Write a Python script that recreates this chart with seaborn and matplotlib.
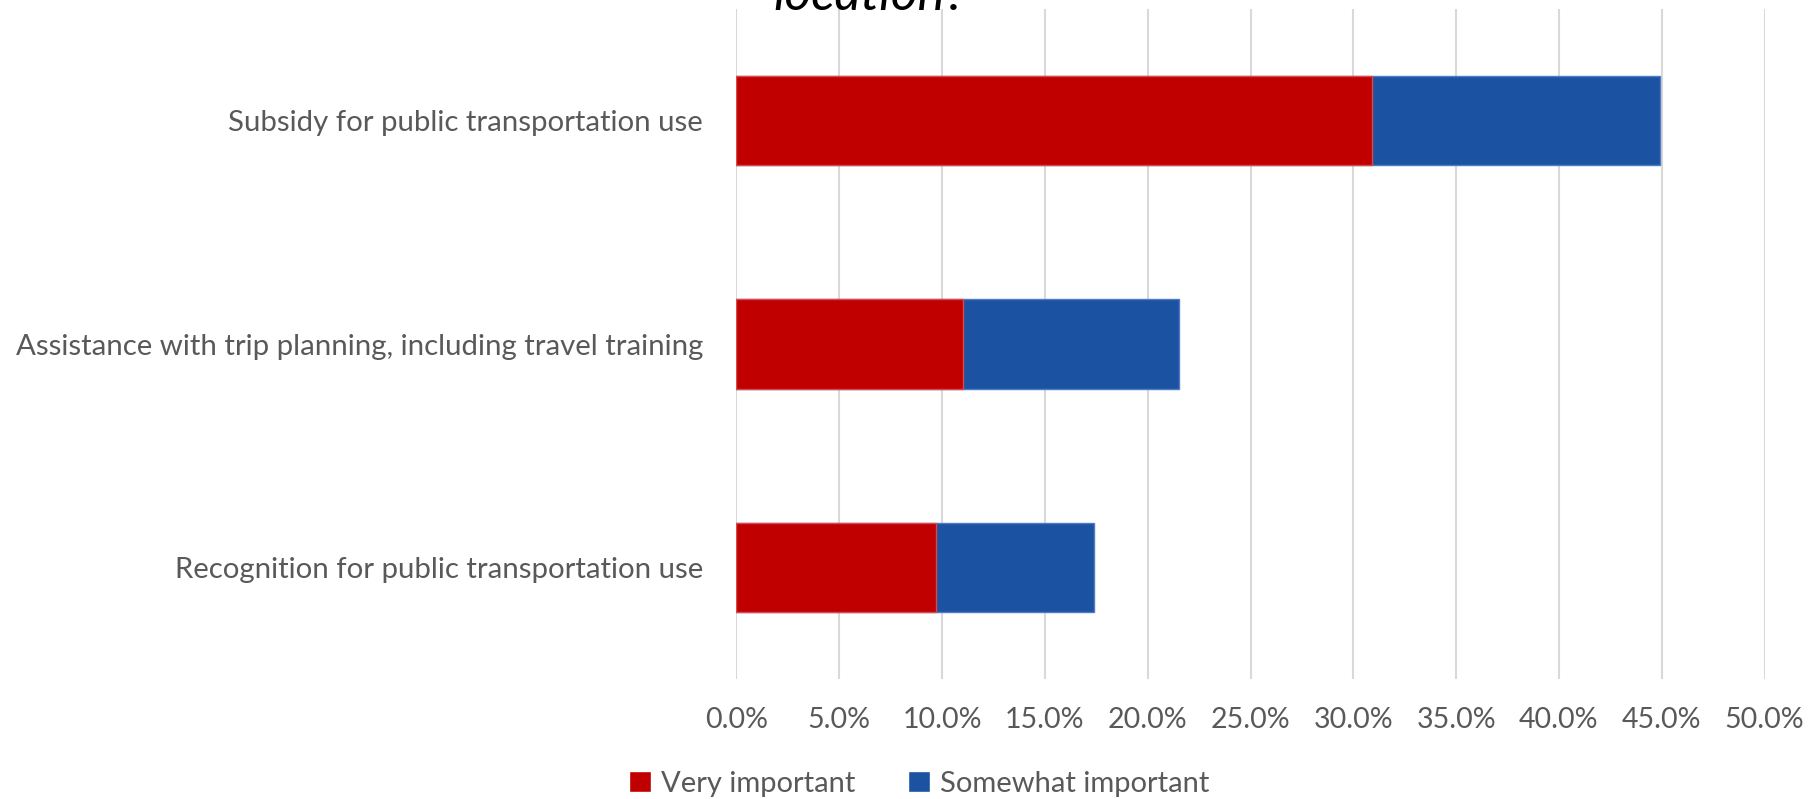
import pandas as pd
import seaborn as sns
import matplotlib.pyplot as plt
from matplotlib.patches import Patch

categories = ["Subsidy for public transportation use",
              "Assistance with trip planning, including travel training",
              "Recognition for public transportation use"]
very_important = [30.9, 11.0, 9.7]
somewhat_important = [14.0, 10.5, 7.7]
xticks = [0, 5, 10, 15, 20, 25, 30, 35, 40, 45, 50]

red = "#C00000"
blue = "#1B52A2"
grey_txt = "#595959"

df = pd.DataFrame({"Item": categories,
                   "Very": very_important,
                   "Somewhat": somewhat_important})
df["Total"] = df["Very"] + df["Somewhat"]

sns.set_theme(style="white")
plt.rcParams["font.family"] = ["Lato", "DejaVu Sans"]

fig = plt.figure(figsize=(18.15, 7.99), dpi=100)
ax = fig.add_axes([736.5/1815, 1-679/799, 1028/1815, (679-9.2)/799])

# stacked bars: total in blue, red drawn over it
sns.barplot(data=df, y="Item", x="Total", color=blue, width=0.4, ax=ax,
            edgecolor="#4F7CC4", linewidth=1, saturation=1, zorder=3)
sns.barplot(data=df, y="Item", x="Very", color=red, width=0.4, ax=ax,
            edgecolor="#D84A4A", linewidth=1, saturation=1, zorder=4)

ax.set_xlim(0, 50)
ax.set_ylim(2.5, -0.5)
ax.set_xticks(xticks)
ax.set_xticklabels([f"{t:.1f}%" for t in xticks])
ax.grid(axis="x", color="#D9D9D9", linewidth=1.5, zorder=0)
ax.set_axisbelow(True)
for s in ax.spines.values():
    s.set_visible(False)
ax.tick_params(axis="x", length=0, pad=20, labelsize=20.5, labelcolor=grey_txt)
ax.tick_params(axis="y", length=0, pad=24, labelsize=21.2, labelcolor=grey_txt)
ax.set_xlabel("")
ax.set_ylabel("")

handles = [Patch(facecolor=red, label="Very important"),
           Patch(facecolor=blue, label="Somewhat important")]
fig.legend(handles=handles, loc="center", bbox_to_anchor=(919/1815, 1-783.6/799),
           ncol=2, frameon=False, fontsize=21, labelcolor=grey_txt,
           handlelength=0.75, handleheight=0.75, handletextpad=0.35, columnspacing=1.8)

# last line of the title, mostly cut off at the top edge
fig.text(869.5/1815, 1-10/799, "location?", ha="center", va="baseline",
         fontsize=37, fontstyle="italic", color="black")

fig.savefig("out.png", dpi=100)
